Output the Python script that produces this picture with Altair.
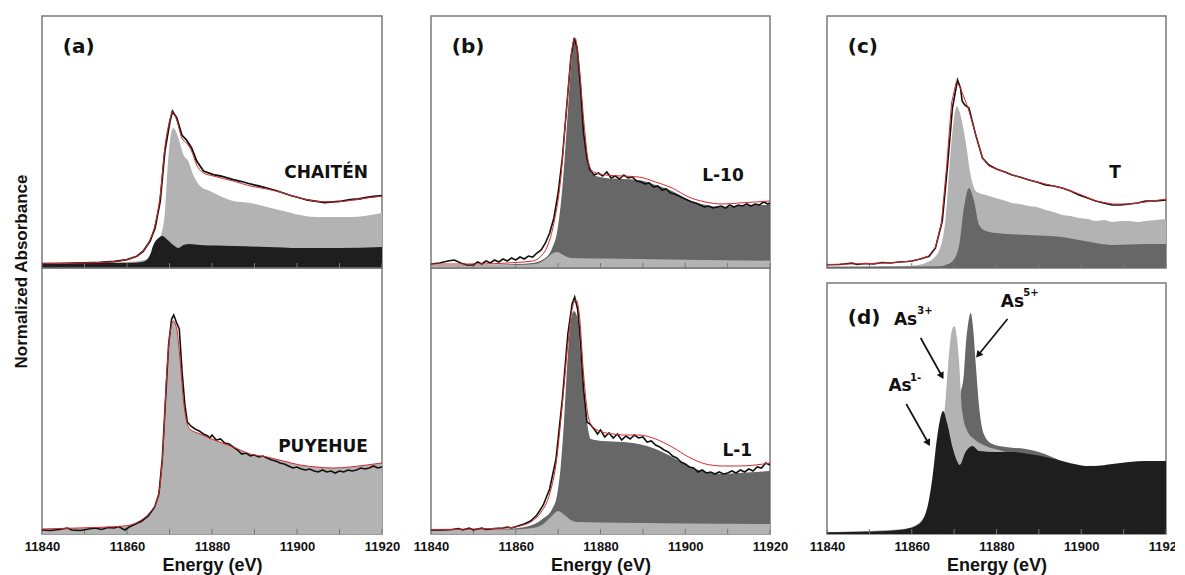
import math
import altair as alt
import pandas as pd

# ---------------- axis / layout constants ----------------
E_DOMAIN = [11840, 11920]
TICK_E = [11840, 11850, 11860, 11870, 11880, 11890, 11900, 11910, 11920]
LABEL_E = [11840, 11860, 11880, 11900, 11920]

W1, W2, W3 = 340, 339, 339
TOP_H, BOT_H, D_H = 252, 266, 251
TOP_MAX, BOT_MAX, D_MAX = 2.52, 2.66, 2.51

LIGHT = "#b3b3b3"
DARK = "#676767"
BLACKFILL = "#1e1e1e"
RED = "#d42a2a"

# ---------------- (a) CHAITEN ----------------
a1_data_e = [11840, 11845, 11850, 11853.6, 11857, 11860, 11862.3, 11863.8, 11865.4, 11866.6, 11867.8,
             11868.9, 11870.1, 11870.7, 11871.7, 11872.9, 11874, 11875.2, 11876.4, 11878, 11880.3,
             11882, 11885, 11887, 11889, 11891, 11892.9, 11895, 11896.8, 11898.5, 11900.7, 11902.5,
             11904.6, 11906.5, 11908.5, 11910.5, 11912.5, 11914.5, 11916.4, 11918, 11920]
a1_data_v = [0.043, 0.047, 0.052, 0.057, 0.065, 0.083, 0.117, 0.167, 0.267, 0.40, 0.667,
             1.167, 1.467, 1.567, 1.50, 1.33, 1.28, 1.20, 1.07, 0.97, 0.933,
             0.92, 0.883, 0.865, 0.84, 0.82, 0.80, 0.775, 0.75, 0.725, 0.70, 0.68,
             0.667, 0.655, 0.662, 0.668, 0.683, 0.69, 0.707, 0.715, 0.723]
a1_fit_e = [11840, 11850, 11857, 11860, 11862.3, 11863.8, 11865.4, 11866.6, 11867.8, 11868.9, 11870.1,
            11870.7, 11871.7, 11872.9, 11874, 11875.2, 11876.4, 11878, 11880.3, 11885, 11889,
            11892.9, 11896.8, 11900.7, 11904.6, 11908.5, 11912.5, 11916.4, 11920]
a1_fit_v = [0.043, 0.05, 0.065, 0.085, 0.12, 0.17, 0.28, 0.43, 0.72, 1.2, 1.48,
            1.56, 1.48, 1.30, 1.25, 1.17, 1.03, 0.95, 0.92, 0.87, 0.82,
            0.79, 0.75, 0.70, 0.667, 0.66, 0.675, 0.70, 0.72]
a1_as3_e = [11840, 11860, 11864, 11866, 11867, 11868, 11868.9, 11869.3, 11870.1, 11870.9, 11872.1,
            11873.3, 11874.4, 11875.6, 11877.2, 11879.5, 11881.9, 11885, 11889, 11892.9, 11896.8,
            11900.7, 11904.6, 11912.5, 11920]
a1_as3_v = [0.04, 0.06, 0.08, 0.12, 0.22, 0.33, 0.55, 0.83, 1.27, 1.40, 1.30,
            1.13, 1.07, 0.93, 0.82, 0.77, 0.72, 0.67, 0.65, 0.61, 0.57,
            0.53, 0.51, 0.51, 0.55]
a1_as1_e = [11840, 11855, 11861.5, 11863.5, 11864.6, 11865.5, 11866.2, 11867.4, 11868.3, 11869.3,
            11870.9, 11872.1, 11873.3, 11874.8, 11877.2, 11885, 11892.9, 11900.7, 11910, 11920]
a1_as1_v = [0.05, 0.05, 0.052, 0.06, 0.08, 0.14, 0.23, 0.30, 0.32, 0.29,
            0.23, 0.20, 0.23, 0.24, 0.23, 0.22, 0.21, 0.20, 0.20, 0.21]

# ---------------- (a) PUYEHUE ----------------
a2_fit_e = [11840, 11845.8, 11853.6, 11859.9, 11863, 11865.4, 11867, 11867.8, 11868.5, 11869.3,
            11870.1, 11870.9, 11871.7, 11872.5, 11873.3, 11874, 11874.8, 11877.2, 11881.1, 11885,
            11889, 11892.9, 11896.8, 11900.7, 11904.6, 11908.5, 11912.5, 11916.4, 11920]
a2_fit_v = [0.05, 0.057, 0.067, 0.083, 0.13, 0.217, 0.33, 0.50, 0.87, 1.57,
            2.00, 2.13, 2.05, 1.73, 1.33, 1.13, 1.05, 1.00, 0.93, 0.87,
            0.80, 0.77, 0.73, 0.69, 0.67, 0.66, 0.67, 0.69, 0.71]
a2_data_e = [11840, 11842, 11844, 11846, 11847, 11849, 11851, 11852.5, 11854, 11855.5, 11857, 11858,
             11859.5, 11860.5, 11862, 11863.5, 11865, 11866.5, 11867.5, 11868.3, 11869, 11869.8,
             11870.5, 11871, 11871.6, 11872.3, 11873, 11873.6, 11874.2, 11875, 11876, 11877, 11878,
             11879, 11879.5, 11880, 11881, 11882, 11883, 11884, 11885, 11886, 11887, 11888, 11889,
             11890, 11891, 11892, 11893, 11894, 11895, 11896, 11897, 11898, 11899, 11900, 11901,
             11902, 11903, 11904, 11905, 11906, 11907, 11908, 11909, 11910, 11911, 11912, 11913,
             11914, 11915, 11916, 11917, 11918, 11919, 11920]
a2_data_v = [0.04, 0.035, 0.045, 0.06, 0.04, 0.035, 0.05, 0.06, 0.045, 0.065, 0.06, 0.075,
             0.04, 0.07, 0.10, 0.13, 0.18, 0.27, 0.40, 0.75, 1.30, 1.90,
             2.15, 2.19, 2.12, 2.05, 1.60, 1.30, 1.12, 1.08, 1.05, 1.03, 1.00,
             0.98, 0.96, 0.99, 0.94, 0.95, 0.91, 0.90, 0.87, 0.84, 0.80, 0.81, 0.78,
             0.79, 0.77, 0.78, 0.76, 0.74, 0.73, 0.71, 0.70, 0.68, 0.66, 0.67, 0.65,
             0.64, 0.65, 0.63, 0.62, 0.64, 0.62, 0.63, 0.61, 0.63, 0.62, 0.64, 0.63,
             0.64, 0.66, 0.65, 0.66, 0.68, 0.66, 0.67]

# ---------------- (b) L-10 ----------------
b1_as5_e = [11840, 11850, 11860, 11863.9, 11867, 11868.6, 11869.8, 11871, 11872.2, 11873.3, 11874,
            11874.9, 11876.1, 11877.3, 11878.4, 11881.2, 11885.1, 11889, 11893, 11896.9, 11900.8,
            11904.8, 11908.7, 11912.6, 11916.6, 11920]
b1_as5_v = [0.027, 0.03, 0.04, 0.05, 0.10, 0.20, 0.37, 0.80, 1.50, 2.13, 2.27,
            2.00, 1.40, 1.00, 0.93, 0.90, 0.89, 0.88, 0.83, 0.77, 0.68,
            0.63, 0.61, 0.62, 0.63, 0.63]
b1_fit_e = [11840, 11850, 11860, 11864, 11866, 11867.5, 11869, 11870.5, 11872, 11873.3, 11874,
            11874.9, 11876.1, 11877.3, 11878.4, 11881.2, 11885.1, 11889, 11893, 11896.9, 11900.8,
            11904.8, 11908.7, 11912.6, 11916.6, 11920]
b1_fit_v = [0.04, 0.04, 0.055, 0.07, 0.12, 0.22, 0.45, 0.85, 1.60, 2.20, 2.30,
            2.05, 1.45, 1.03, 0.96, 0.93, 0.92, 0.91, 0.86, 0.80, 0.71,
            0.66, 0.64, 0.65, 0.66, 0.67]
b1_data_e = [11840, 11842, 11844, 11845.5, 11847, 11848.5, 11850, 11851, 11852, 11853, 11854, 11855,
             11856, 11857, 11858, 11859, 11860, 11861, 11862, 11863, 11864, 11865, 11866, 11867,
             11868, 11869, 11870, 11871, 11872, 11873, 11873.8, 11874.5, 11875.3, 11876, 11876.8,
             11877.5, 11878.5, 11879.5, 11880.5, 11881.5, 11882.5, 11883.5, 11884.5, 11885.5,
             11886.5, 11887.5, 11888.5, 11889.5, 11890.5, 11891.5, 11892.5, 11893.5, 11894.5,
             11895.5, 11896.5, 11897.5, 11898.5, 11899.5, 11900.5, 11901.5, 11902.5, 11903.5,
             11904.5, 11905.5, 11906.5, 11907.5, 11908.5, 11909.5, 11910.5, 11911.5, 11912.5,
             11913.5, 11914.5, 11915.5, 11916.5, 11917.5, 11918.5, 11919.5, 11920]
b1_data_v = [0.04, 0.05, 0.07, 0.08, 0.05, 0.03, 0.03, 0.06, 0.04, 0.07, 0.05, 0.08,
             0.06, 0.09, 0.07, 0.10, 0.08, 0.11, 0.09, 0.12, 0.11, 0.15, 0.18, 0.25,
             0.35, 0.50, 0.75, 1.10, 1.60, 2.10, 2.30, 2.20, 1.80, 1.35, 1.10,
             0.98, 0.93, 0.95, 0.92, 0.96, 0.90, 0.92, 0.89, 0.93,
             0.90, 0.91, 0.87, 0.86, 0.84, 0.85, 0.81, 0.82, 0.78,
             0.79, 0.75, 0.74, 0.72, 0.70, 0.68, 0.66, 0.65, 0.63,
             0.61, 0.62, 0.60, 0.61, 0.62, 0.60, 0.63, 0.61, 0.63,
             0.62, 0.64, 0.62, 0.64, 0.63, 0.66, 0.64, 0.65]
b1_as3_e = [11840, 11860, 11864.7, 11866, 11867.4, 11868.8, 11869.8, 11870.8, 11871.8, 11873,
            11878, 11885, 11900, 11920]
b1_as3_v = [0.027, 0.03, 0.04, 0.06, 0.10, 0.15, 0.16, 0.14, 0.117, 0.10,
            0.095, 0.093, 0.083, 0.073]

# ---------------- (b) L-1 ----------------
b2_as5_e = [11840, 11850, 11857.6, 11863.1, 11866.3, 11868.6, 11869.8, 11870.6, 11871.4, 11872.2,
            11872.9, 11873.7, 11874.5, 11875.3, 11876.5, 11877.7, 11880.4, 11885.1, 11889, 11893,
            11896.9, 11900.8, 11904.8, 11908.7, 11912.6, 11916.6, 11920]
b2_as5_v = [0.04, 0.045, 0.05, 0.08, 0.15, 0.25, 0.40, 0.67, 1.13, 1.73,
            2.10, 2.23, 2.17, 1.80, 1.23, 0.95, 0.93, 0.92, 0.90, 0.85,
            0.77, 0.68, 0.62, 0.60, 0.61, 0.62, 0.63]
b2_fit_e = [11840, 11850, 11857.6, 11861, 11863.5, 11866, 11868, 11869.5, 11871, 11872.3, 11873.3,
            11874.2, 11875, 11876, 11877, 11878, 11880.4, 11883, 11885.1, 11889, 11893, 11896.9,
            11900.8, 11904.8, 11908.7, 11912.6, 11916.6, 11920]
b2_fit_v = [0.045, 0.05, 0.06, 0.08, 0.12, 0.22, 0.40, 0.70, 1.30, 1.90, 2.25,
            2.34, 2.20, 1.60, 1.20, 1.08, 1.02, 1.00, 0.99, 0.99, 0.95, 0.87,
            0.77, 0.70, 0.68, 0.68, 0.69, 0.71]
b2_data_e = [11840, 11843, 11845, 11846.5, 11847.5, 11849, 11850, 11851, 11852, 11853, 11855,
             11857, 11858, 11859, 11860.5, 11862, 11863.5, 11865, 11866.5, 11868, 11869.5, 11871,
             11872.3, 11873.3, 11873.9, 11874.6, 11875.3, 11876, 11876.8, 11877.5, 11878.5,
             11879.3, 11880, 11881, 11882, 11883, 11884, 11885, 11886, 11887, 11888, 11889, 11890,
             11891, 11892, 11893, 11894, 11895, 11896, 11897, 11898, 11899, 11900, 11901, 11902,
             11903, 11904, 11905, 11906, 11907, 11908, 11909, 11910, 11911, 11912, 11913, 11914,
             11915, 11916, 11917, 11918, 11919, 11920]
b2_data_v = [0.04, 0.04, 0.045, 0.055, 0.04, 0.06, 0.04, 0.05, 0.06, 0.045, 0.055,
             0.06, 0.07, 0.06, 0.08, 0.10, 0.13, 0.19, 0.29, 0.45, 0.75, 1.35,
             2.00, 2.30, 2.37, 2.25, 1.90, 1.45, 1.12, 1.10, 1.05,
             1.00, 1.04, 0.97, 1.01, 0.96, 1.00, 0.94, 0.98, 0.95, 0.99, 0.96, 0.97,
             0.92, 0.93, 0.89, 0.87, 0.84, 0.82, 0.78, 0.76, 0.72, 0.70, 0.67, 0.66,
             0.62, 0.64, 0.61, 0.62, 0.60, 0.62, 0.60, 0.61, 0.63, 0.61, 0.64, 0.62,
             0.65, 0.63, 0.67, 0.66, 0.71, 0.69]
b2_as3_e = [11840, 11860, 11864, 11866.5, 11868.5, 11870, 11871.5, 11873, 11874.5, 11880, 11900, 11920]
b2_as3_v = [0.04, 0.045, 0.06, 0.10, 0.18, 0.23, 0.19, 0.14, 0.12, 0.115, 0.105, 0.10]

# ---------------- (c) T ----------------
c_as3_e = [11840, 11860.1, 11864.1, 11866.4, 11868, 11869.2, 11870.4, 11870.6, 11871.5, 11872.7,
           11873.9, 11875.1, 11875.9, 11877.5, 11879.8, 11881.5, 11883.7, 11885.5, 11887.7, 11889.5,
           11891.6, 11893.5, 11895.5, 11897.5, 11899.5, 11901.5, 11903.4, 11905.5, 11907.3, 11909.3,
           11911.3, 11913.3, 11915.2, 11917.5, 11920]
c_as3_v = [0.017, 0.023, 0.067, 0.167, 0.50, 1.17, 1.60, 1.62, 1.53, 1.27,
           0.93, 0.77, 0.75, 0.73, 0.70, 0.68, 0.65, 0.64, 0.62, 0.61,
           0.58, 0.56, 0.53, 0.52, 0.50, 0.49, 0.47, 0.48, 0.46, 0.47,
           0.47, 0.46, 0.47, 0.48, 0.49]
c_as5_e = [11840, 11866.4, 11868, 11869.6, 11871.2, 11872.3, 11873.5, 11874.7, 11875.9, 11877.5,
           11879.8, 11887.7, 11895.5, 11899.5, 11903.4, 11907.3, 11915.2, 11920]
c_as5_v = [0.01, 0.017, 0.03, 0.067, 0.23, 0.60, 0.80, 0.67, 0.43, 0.37,
           0.35, 0.33, 0.31, 0.28, 0.25, 0.23, 0.24, 0.24]
c_data_e = [11840, 11843, 11846, 11847, 11849, 11851, 11853, 11855, 11857, 11859, 11860.1, 11862,
            11864.1, 11865.6, 11867.2, 11868.4, 11869.6, 11870.8, 11871.5, 11871.9, 11872.5, 11873.5,
            11875.1, 11876.7, 11878.2, 11880, 11882, 11883.7, 11885.5, 11887.7, 11889.5, 11891.6,
            11893.5, 11895.5, 11897.5, 11899.5, 11901.5, 11903.4, 11905.3, 11907.3, 11909.3,
            11911.3, 11913.3, 11915.2, 11917.5, 11920]
c_data_v = [0.033, 0.035, 0.05, 0.035, 0.045, 0.04, 0.055, 0.05, 0.06, 0.065, 0.07, 0.09,
            0.117, 0.20, 0.47, 1.00, 1.60, 1.88, 1.80, 1.67, 1.63, 1.60,
            1.33, 1.10, 1.03, 0.99, 0.96, 0.93, 0.91, 0.88, 0.86, 0.83,
            0.82, 0.80, 0.77, 0.73, 0.70, 0.67, 0.65, 0.63, 0.63,
            0.64, 0.65, 0.67, 0.67, 0.68]
c_fit_e = [11840, 11850, 11856, 11860, 11862, 11864, 11865.6, 11867, 11868.2, 11869.4, 11870.5,
           11871.3, 11872.2, 11873.3, 11875, 11876.7, 11878.2, 11880, 11883.7, 11887.7, 11891.6,
           11895.5, 11899.5, 11903.4, 11907.3, 11911.3, 11915.2, 11920]
c_fit_v = [0.035, 0.045, 0.055, 0.07, 0.09, 0.12, 0.21, 0.45, 1.00, 1.65, 1.86,
           1.82, 1.72, 1.60, 1.35, 1.10, 1.02, 0.99, 0.93, 0.88, 0.84,
           0.80, 0.74, 0.67, 0.64, 0.64, 0.66, 0.69]

# ---------------- (d) reference spectra ----------------
d_as1_e = [11840, 11852.3, 11858.6, 11861.7, 11863.7, 11864.9, 11866, 11867.4, 11868.4, 11869.6,
           11870.8, 11871.3, 11872.7, 11874.3, 11875.9, 11879.8, 11883.7, 11887.7, 11891.6, 11895.5,
           11899.5, 11901, 11903.4, 11907.3, 11911.3, 11915.2, 11920]
d_as1_v = [0.017, 0.027, 0.05, 0.10, 0.27, 0.57, 0.97, 1.23, 1.10, 0.87,
           0.72, 0.69, 0.82, 0.88, 0.83, 0.82, 0.82, 0.80, 0.77, 0.73,
           0.69, 0.68, 0.68, 0.70, 0.72, 0.73, 0.73]
d_as3_e = [11840, 11858, 11862, 11864, 11865.5, 11867, 11868, 11868.8, 11869.4, 11870.0, 11870.6,
           11871.2, 11871.9, 11873.1, 11874.7, 11877.5, 11881.4, 11883.7, 11887, 11891.6, 11895.5,
           11899.5, 11920]
d_as3_v = [0.017, 0.05, 0.12, 0.30, 0.60, 0.95, 1.36, 1.80, 2.02, 2.08, 1.98,
           1.70, 1.23, 1.03, 0.95, 0.88, 0.83, 0.80, 0.78, 0.75, 0.71,
           0.67, 0.70]
d_as5_e = [11840, 11860, 11864, 11867, 11869, 11870.5, 11871.5, 11872.3, 11872.7, 11873.3, 11873.9,
           11874.5, 11875.1, 11875.9, 11877.0, 11879.0, 11882.2, 11886.9, 11890, 11893.1, 11897.1,
           11901, 11920]
d_as5_v = [0.017, 0.05, 0.2, 0.5, 0.8, 1.1, 1.4, 1.6, 1.86, 2.10, 2.21,
           2.05, 1.70, 1.27, 1.00, 0.90, 0.87, 0.85, 0.82, 0.77, 0.70,
           0.68, 0.72]

# annotations for (d): label text, energy, value
d_label_text = ["As", "As", "As"]
d_label_e = [11881.0, 11855.8, 11854.5]
d_label_v = [2.27, 2.09, 1.43]
d_sup_text = ["5+", "3+", "1-"]
d_sup_e = [11886.3, 11861.3, 11859.6]
d_sup_v = [2.38, 2.20, 1.53]
d_arrow_e1 = [11882.6, 11862.1, 11858.7]
d_arrow_v1 = [2.15, 1.96, 1.30]
d_arrow_e2 = [11875.7, 11867.1, 11863.9]
d_arrow_v2 = [1.79, 1.58, 0.91]

Y_TITLE = "Normalized Absorbance"


def xenc(axis, field="E:Q"):
    return alt.X(field, scale=alt.Scale(domain=E_DOMAIN, nice=False, zero=False), axis=axis)


def yenc(field, ymax, axis=None):
    return alt.Y(field, scale=alt.Scale(domain=[0, ymax], nice=False, zero=False), axis=axis)


def make_axis(show):
    if not show:
        return None
    return alt.Axis(values=LABEL_E, format="d", labelFont="Liberation Sans", labelFontWeight="bold",
                    labelFontSize=13, labelColor="#111111", ticks=False, domain=False, grid=False,
                    labelPadding=6, labelFlush=False, labelOverlap=False,
                    title="Energy (eV)", titleFont="Liberation Sans", titleFontWeight="bold",
                    titleFontSize=18, titleColor="#111111", titlePadding=3)


def make_yaxis(height):
    return alt.Axis(title=Y_TITLE, labels=False, ticks=False, domain=False, grid=False,
                    titleFont="Liberation Sans", titleFontWeight="bold", titleFontSize=17,
                    titleColor="#111111", titleAngle=270, titleAlign="center",
                    titleBaseline="middle", titleX=-21, titleY=height + 3)


def panel(width, height, ymax, areas, lines, letter, letter_v, name=None, name_e=None, name_v=None,
          name_align="right", show_axis=False, extra=None, yaxis=None):
    ax = make_axis(show_axis)
    layers = []
    for e, v, color in areas:
        df = pd.DataFrame({"E": e, "A": v})
        layers.append(alt.Chart(df).mark_area(color=color, opacity=1, interpolate="monotone", clip=True)
                      .encode(x=xenc(ax), y=yenc("A:Q", ymax, yaxis)))
    tdf = pd.DataFrame({"E": TICK_E})
    layers.append(alt.Chart(tdf).mark_rule(color="#777777", strokeWidth=1)
                  .encode(x=xenc(ax), y=alt.value(height), y2=alt.value(height - 5)))
    for e, v, color, sw, interp in lines:
        df = pd.DataFrame({"E": e, "A": v})
        layers.append(alt.Chart(df).mark_line(color=color, strokeWidth=sw, interpolate=interp, clip=True)
                      .encode(x=xenc(ax), y=yenc("A:Q", ymax, yaxis)))
    if letter:
        ldf = pd.DataFrame({"E": [11844.9], "A": [letter_v], "t": [letter]})
        layers.append(alt.Chart(ldf).mark_text(align="left", baseline="alphabetic", font="DejaVu Sans",
                                              fontWeight="bold", fontSize=20, color="#111111")
                      .encode(x=xenc(ax), y=yenc("A:Q", ymax, yaxis), text="t:N"))
    if name:
        ndf = pd.DataFrame({"E": [name_e], "A": [name_v], "t": [name]})
        layers.append(alt.Chart(ndf).mark_text(align=name_align, baseline="alphabetic", font="DejaVu Sans",
                                              fontWeight="bold", fontSize=17, color="#111111")
                      .encode(x=xenc(ax), y=yenc("A:Q", ymax, yaxis), text="t:N"))
    if extra:
        layers.extend(extra(ax))
    return alt.layer(*layers).properties(width=width, height=height)


def d_extra(ax):
    px_e = W3 / (E_DOMAIN[1] - E_DOMAIN[0])
    px_v = D_H / D_MAX
    angles = []
    for e1, v1, e2, v2 in zip(d_arrow_e1, d_arrow_v1, d_arrow_e2, d_arrow_v2):
        dx = (e2 - e1) * px_e
        dy = -(v2 - v1) * px_v
        angles.append(math.degrees(math.atan2(dx, -dy)) % 360)
    adf = pd.DataFrame({"E": d_arrow_e1, "A": d_arrow_v1, "E2": d_arrow_e2, "A2": d_arrow_v2,
                        "ang": angles})
    lab = pd.DataFrame({"E": d_label_e, "A": d_label_v, "t": d_label_text})
    sup = pd.DataFrame({"E": d_sup_e, "A": d_sup_v, "t": d_sup_text})
    out = [
        alt.Chart(adf).mark_rule(color="#111111", strokeWidth=1.7)
        .encode(x=xenc(ax), y=yenc("A:Q", D_MAX), x2="E2:Q", y2="A2:Q"),
        alt.Chart(adf).mark_point(shape="triangle-up", filled=True, size=60, color="#111111", opacity=1)
        .encode(x=xenc(ax, "E2:Q"), y=yenc("A2:Q", D_MAX), angle=alt.Angle("ang:Q", scale=None)),
        alt.Chart(lab).mark_text(align="left", baseline="alphabetic", font="DejaVu Sans", fontWeight="bold",
                                 fontSize=17, color="#111111")
        .encode(x=xenc(ax), y=yenc("A:Q", D_MAX), text="t:N"),
        alt.Chart(sup).mark_text(align="left", baseline="alphabetic", font="DejaVu Sans", fontWeight="bold",
                                 fontSize=10, color="#111111")
        .encode(x=xenc(ax), y=yenc("A:Q", D_MAX), text="t:N"),
    ]
    return out


a_top = panel(W1, TOP_H, TOP_MAX,
              [(a1_as3_e, a1_as3_v, LIGHT), (a1_as1_e, a1_as1_v, BLACKFILL)],
              [(a1_data_e, a1_data_v, "#111111", 1.8, "linear"), (a1_fit_e, a1_fit_v, RED, 1, "monotone")],
              "(a)", 2.155, "CHAITÉN", 11916.7, 0.90, yaxis=make_yaxis(TOP_H))
a_bot = panel(W1, BOT_H, BOT_MAX,
              [(a2_fit_e, a2_fit_v, LIGHT)],
              [(a2_data_e, a2_data_v, "#111111", 1.6, "linear"), (a2_fit_e, a2_fit_v, RED, 1, "monotone")],
              "", 2.0, "PUYEHUE", 11916.7, 0.82, show_axis=True)
b_top = panel(W2, TOP_H, TOP_MAX,
              [(b1_as5_e, b1_as5_v, DARK), (b1_as3_e, b1_as3_v, LIGHT)],
              [(b1_data_e, b1_data_v, "#111111", 1.6, "linear"), (b1_fit_e, b1_fit_v, RED, 1, "monotone")],
              "(b)", 2.155, "L-10", 11913.8, 0.87)
b_bot = panel(W2, BOT_H, BOT_MAX,
              [(b2_as5_e, b2_as5_v, DARK), (b2_as3_e, b2_as3_v, LIGHT)],
              [(b2_data_e, b2_data_v, "#111111", 1.6, "linear"), (b2_fit_e, b2_fit_v, RED, 1, "monotone")],
              "", 2.0, "L-1", 11915.8, 0.78, show_axis=True)
c_top = panel(W3, TOP_H, TOP_MAX,
              [(c_as3_e, c_as3_v, LIGHT), (c_as5_e, c_as5_v, DARK)],
              [(c_data_e, c_data_v, "#111111", 1.6, "linear"), (c_fit_e, c_fit_v, RED, 1, "linear")],
              "(c)", 2.155, "T", 11908.0, 0.90, name_align="center")
d_bot = panel(W3, D_H, D_MAX,
              [(d_as5_e, d_as5_v, DARK), (d_as3_e, d_as3_v, LIGHT), (d_as1_e, d_as1_v, BLACKFILL)],
              [],
              "(d)", 2.10, show_axis=True, extra=d_extra)

col1 = alt.vconcat(a_top, a_bot, spacing=0, bounds="flush")
col2 = alt.vconcat(b_top, b_bot, spacing=0, bounds="flush")
col3 = alt.vconcat(c_top, d_bot, spacing=15, bounds="flush")

chart = alt.hconcat(
    col1,
    alt.hconcat(col2, col3, spacing=19),
    spacing=11,
).properties(
    padding={"left": 3, "top": 7, "right": -10, "bottom": 0},
).configure_view(stroke="#7a7a7a", strokeWidth=1.5)

chart.save("out.html", embed_options={"renderer": "svg", "actions": False})
